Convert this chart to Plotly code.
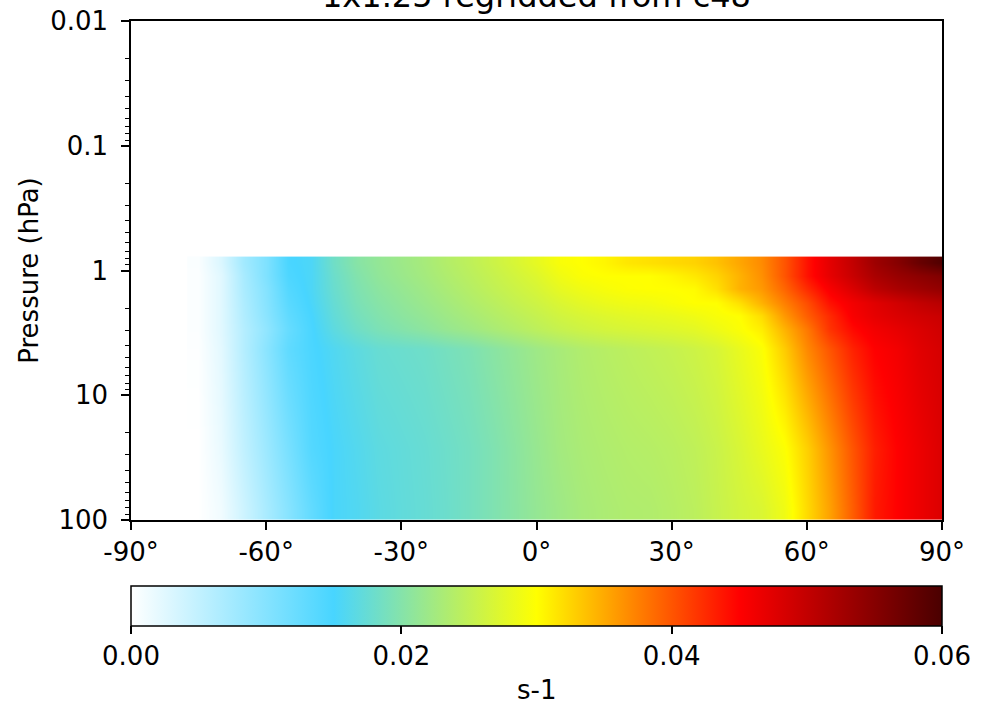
import plotly.graph_objects as go

# ---------------- data ----------------
lats = [-75, -70, -65, -60, -55, -50, -45, -40, -35, -30, -25, -20, -15, -10, -5, 0,
        5, 10, 15, 20, 25, 30, 35, 40, 45, 50, 55, 60, 65, 70, 75, 80, 85, 90]

pressure_levels = [0.87, 1.1, 1.4, 1.8, 2.3, 2.9, 4.2, 27, 83]

row_p0_87 = [0.0004, 0.0030, 0.0075, 0.0105, 0.0148, 0.0155, 0.0183, 0.0202, 0.0212, 0.0220,
             0.0228, 0.0238, 0.0247, 0.0257, 0.0268, 0.0280, 0.0295, 0.0300, 0.0305, 0.0314,
             0.0318, 0.0322, 0.0326, 0.0336, 0.0352, 0.0368, 0.0400, 0.0440, 0.0472, 0.0500,
             0.0530, 0.0550, 0.0575, 0.0595]
row_p1_1 = [0.0003, 0.0025, 0.0070, 0.0105, 0.0145, 0.0155, 0.0180, 0.0198, 0.0210, 0.0218,
            0.0226, 0.0235, 0.0244, 0.0253, 0.0263, 0.0273, 0.0288, 0.0297, 0.0300, 0.0300,
            0.0300, 0.0305, 0.0313, 0.0325, 0.0345, 0.0365, 0.0400, 0.0440, 0.0470, 0.0495,
            0.0520, 0.0535, 0.0545, 0.0555]
row_p1_4 = [0.0003, 0.0025, 0.0068, 0.0100, 0.0140, 0.0155, 0.0178, 0.0195, 0.0206, 0.0214,
            0.0222, 0.0231, 0.0240, 0.0249, 0.0258, 0.0267, 0.0280, 0.0288, 0.0294, 0.0298,
            0.0300, 0.0300, 0.0302, 0.0318, 0.0345, 0.0360, 0.0390, 0.0425, 0.0455, 0.0480,
            0.0505, 0.0520, 0.0530, 0.0540]
row_p1_8 = [0.0003, 0.0025, 0.0065, 0.0098, 0.0135, 0.0153, 0.0175, 0.0192, 0.0202, 0.0210,
            0.0218, 0.0226, 0.0235, 0.0243, 0.0252, 0.0260, 0.0270, 0.0278, 0.0284, 0.0288,
            0.0290, 0.0295, 0.0300, 0.0300, 0.0318, 0.0345, 0.0375, 0.0405, 0.0440, 0.0460,
            0.0475, 0.0488, 0.0500, 0.0510]
row_p2_3 = [0.0003, 0.0025, 0.0063, 0.0095, 0.0130, 0.0150, 0.0172, 0.0188, 0.0198, 0.0206,
            0.0213, 0.0221, 0.0229, 0.0237, 0.0245, 0.0253, 0.0262, 0.0268, 0.0273, 0.0277,
            0.0280, 0.0283, 0.0288, 0.0295, 0.0300, 0.0320, 0.0360, 0.0395, 0.0425, 0.0455,
            0.0470, 0.0480, 0.0488, 0.0495]
row_p2_9 = [0.0003, 0.0025, 0.0060, 0.0090, 0.0125, 0.0148, 0.0168, 0.0183, 0.0193, 0.0200,
            0.0207, 0.0215, 0.0222, 0.0230, 0.0238, 0.0246, 0.0254, 0.0260, 0.0265, 0.0268,
            0.0271, 0.0274, 0.0278, 0.0287, 0.0297, 0.0310, 0.0345, 0.0380, 0.0420, 0.0445,
            0.0460, 0.0470, 0.0480, 0.0490]
row_p4_2 = [0.0002, 0.0023, 0.0060, 0.0095, 0.0130, 0.0147, 0.0158, 0.0168, 0.0176, 0.0179,
            0.0182, 0.0188, 0.0194, 0.0203, 0.0212, 0.0221, 0.0229, 0.0236, 0.0241, 0.0245,
            0.0249, 0.0253, 0.0259, 0.0267, 0.0282, 0.0297, 0.0330, 0.0370, 0.0400, 0.0430,
            0.0450, 0.0460, 0.0475, 0.0485]
row_p27 = [0.0000, 0.0018, 0.0050, 0.0080, 0.0110, 0.0140, 0.0152, 0.0160, 0.0168, 0.0172,
           0.0176, 0.0181, 0.0187, 0.0195, 0.0205, 0.0215, 0.0225, 0.0231, 0.0235, 0.0238,
           0.0240, 0.0243, 0.0248, 0.0256, 0.0268, 0.0282, 0.0298, 0.0328, 0.0363, 0.0400,
           0.0432, 0.0450, 0.0465, 0.0480]
row_p83 = [0.0000, 0.0012, 0.0040, 0.0070, 0.0098, 0.0128, 0.0152, 0.0158, 0.0166, 0.0171,
           0.0175, 0.0180, 0.0187, 0.0195, 0.0204, 0.0213, 0.0221, 0.0228, 0.0232, 0.0235,
           0.0236, 0.0240, 0.0245, 0.0254, 0.0263, 0.0270, 0.0288, 0.0322, 0.0355, 0.0395,
           0.0435, 0.0450, 0.0465, 0.0480]

z_rows = [row_p0_87, row_p1_1, row_p1_4, row_p1_8, row_p2_3, row_p2_9, row_p4_2, row_p27, row_p83]

x_tick_vals = [-90, -60, -30, 0, 30, 60, 90]
x_tick_text = ["-90°", "-60°", "-30°", "0°", "30°", "60°", "90°"]
y_tick_vals = [0.01, 0.1, 1, 10, 100]
y_tick_text = ["0.01", "0.1", "1", "10", "100"]
cbar_tick_vals = [0.0, 0.02, 0.04, 0.06]

title_text = "1x1.25 regridded from c48"
y_title = "Pressure (hPa)"
cbar_title = "s-1"

colorscale = [
    [0.0, "#ffffff"],
    [0.25, "#48d5ff"],
    [0.5, "#ffff00"],
    [0.75, "#ff0000"],
    [1.0, "#4a0000"],
]

minor_vals = [m * d for d in (0.01, 0.1, 1, 10) for m in range(2, 10)]

FONT = "DejaVu Sans"
TICK_SIZE = 26

fig = go.Figure()
fig.add_trace(go.Heatmap(
    x=lats, y=pressure_levels, z=z_rows,
    zmin=0, zmax=0.06, zsmooth="best",
    colorscale=colorscale,
    colorbar=dict(
        orientation="h",
        x=0.5, xanchor="center",
        y=-0.1323, yanchor="top",
        len=811, lenmode="pixels",
        thickness=40, thicknessmode="pixels",
        xpad=0, ypad=0,
        outlinecolor="black", outlinewidth=1.5,
        ticks="outside", ticklen=8, tickwidth=1.5, tickcolor="black",
        tickvals=cbar_tick_vals, tickformat=".2f",
        tickfont=dict(family=FONT, size=TICK_SIZE, color="black"),
    ),
    hoverinfo="skip",
))

fig.update_layout(
    width=993, height=709,
    margin=dict(l=131, r=51, t=21, b=189, autoexpand=False),
    paper_bgcolor="white", plot_bgcolor="white",
    font=dict(family=FONT, color="black", size=TICK_SIZE),
    xaxis=dict(
        range=[-90, 90], tickvals=x_tick_vals, ticktext=x_tick_text,
        ticks="outside", ticklen=8, tickwidth=1.5, tickcolor="black",
        showline=True, linecolor="black", linewidth=1.5, mirror=True,
        showgrid=False, zeroline=False,
        tickfont=dict(family=FONT, size=TICK_SIZE, color="black"),
    ),
    yaxis=dict(
        type="log", range=[2, -2],
        tickvals=y_tick_vals, ticktext=y_tick_text,
        ticks="outside", ticklen=8, tickwidth=1.5, tickcolor="black",
        ticklabelstandoff=8,
        minor=dict(tickvals=minor_vals, ticks="outside", ticklen=4,
                   tickwidth=1, tickcolor="black", showgrid=False),
        showline=True, linecolor="black", linewidth=1.5, mirror=True,
        showgrid=False, zeroline=False,
        tickfont=dict(family=FONT, size=TICK_SIZE, color="black"),
        title=dict(text=y_title, standoff=4,
                   font=dict(family=FONT, size=TICK_SIZE, color="black")),
    ),
    annotations=[
        dict(text=title_text, xref="paper", yref="paper", x=0.5, y=1.05,
             xanchor="center", yanchor="middle", showarrow=False,
             font=dict(family=FONT, size=32, color="black")),
        dict(text=cbar_title, xref="paper", yref="paper", x=0.5, y=-0.3407,
             xanchor="center", yanchor="middle", showarrow=False,
             font=dict(family=FONT, size=TICK_SIZE, color="black")),
    ],
)

fig.write_html("out.html", config={"displayModeBar": False},
               post_script="document.body.style.margin='0px';")
